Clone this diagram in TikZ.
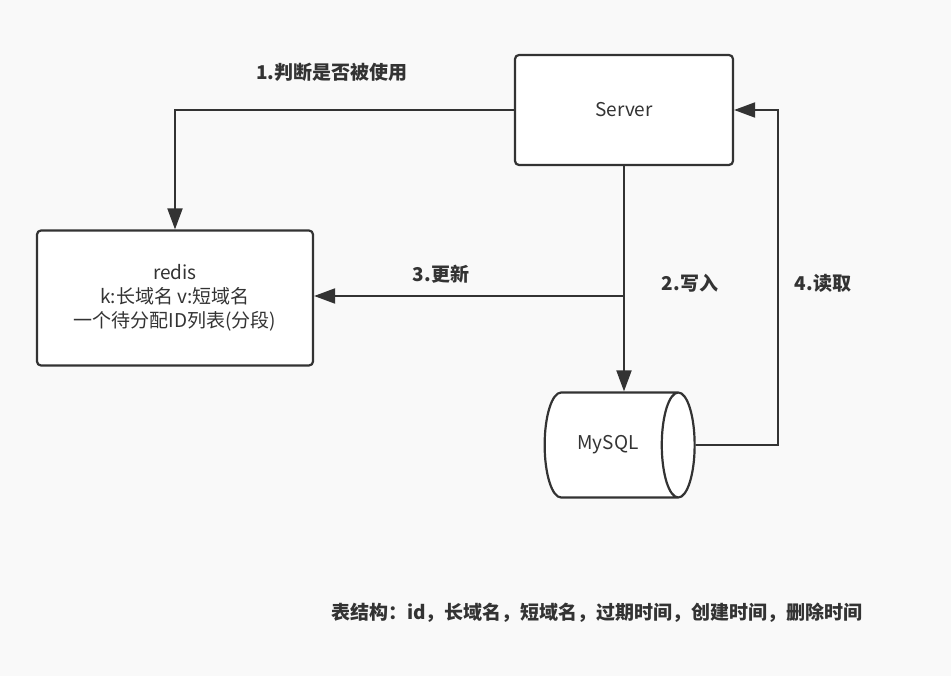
\documentclass[tikz,border=0pt]{standalone}
\usepackage{fontspec}
\setmainfont{Noto Sans CJK SC}
\usepackage{tikz}
\usetikzlibrary{shapes.geometric,arrows.meta}
\pgfdeclarelayer{bg}
\pgfsetlayers{bg,main}
\definecolor{ink}{HTML}{333333}
\definecolor{paper}{HTML}{F9F9F9}
\tikzset{
    box/.style={rectangle, rounded corners=4pt, draw=ink, fill=white, line width=2.2pt, text=ink, align=center, font=\fontsize{19}{24}\selectfont},
    db/.style={cylinder, aspect=1.3, draw=ink, fill=white, line width=2.2pt, text=ink, font=\fontsize{19}{24}\selectfont},
    lbl/.style={text=ink, inner sep=0pt, font=\fontsize{19}{24}\selectfont\bfseries},
    arr/.style={draw=ink, line width=2pt, -{Triangle[length=21pt,width=15pt]}}
}

\begin{document}
\begin{tikzpicture}[x=1pt, y=-1pt]
        \node (server) [box, minimum width=218pt, minimum height=110pt] at (624, 110) {Server};
        \node (redis) [box, minimum width=276pt, minimum height=135pt] at (175, 298) {redis\\k:长域名 v:短域名\\一个待分配ID列表(分段)};
        \node (mysql) [db, minimum width=105pt, minimum height=150pt] at (608, 445) {MySQL};
        \coordinate (rail) at (778, 0);
        \node (check) [lbl] at (332, 72) {1.判断是否被使用};
        \node (write) [lbl] at (690, 283) {2.写入};
        \node (update) [lbl] at (441, 274) {3.更新};
        \node (read) [lbl] at (823, 283) {4.读取};
        \node (schema) [lbl] at (597, 613) {表结构：id，长域名，短域名，过期时间，创建时间，删除时间};
        \begin{pgfonlayer}{bg}
                \fill[paper] (0,0) rectangle (951,676);
                \draw[arr] (server.west) -| (redis.north);
                \draw[arr] (server.south) -- (server.south |- mysql.north);
                \draw[arr] (server.south |- 0,296) -- (redis.east |- 0,296);
                \draw[arr] (mysql.east) -- (mysql.east -| rail) |- (server.east);
        \end{pgfonlayer}
\end{tikzpicture}
\end{document}
